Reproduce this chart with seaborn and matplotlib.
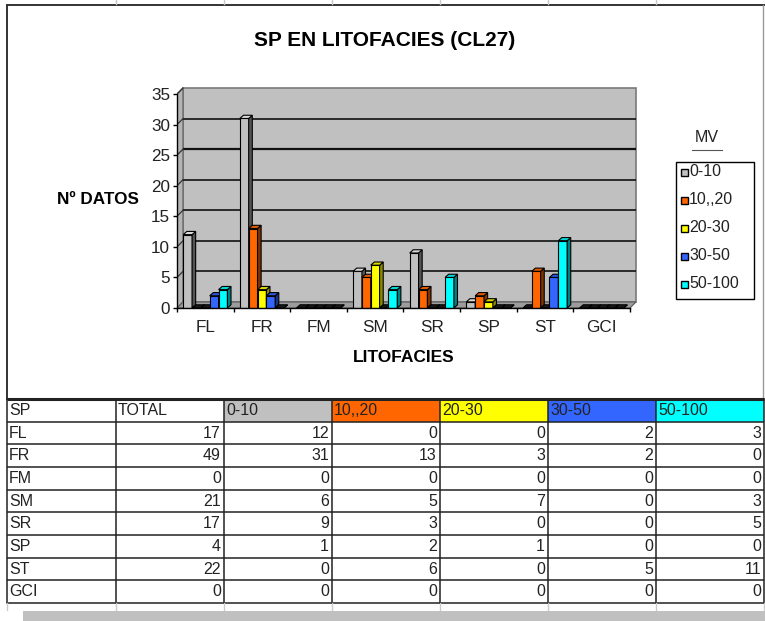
import matplotlib
matplotlib.use("Agg")
import numpy as np
import pandas as pd
import matplotlib.pyplot as plt
from matplotlib.patches import Polygon, Rectangle
from matplotlib import font_manager
import seaborn as sns

# ---- data -------------------------------------------------------------
categories = ["FL", "FR", "FM", "SM", "SR", "SP", "ST", "GCI"]
series_names = ["0-10", "10,,20", "20-30", "30-50", "50-100"]
v_0_10 = [12, 31, 0, 6, 9, 1, 0, 0]
v_10_20 = [0, 13, 0, 5, 3, 2, 6, 0]
v_20_30 = [0, 3, 0, 7, 0, 1, 0, 0]
v_30_50 = [2, 2, 0, 0, 0, 0, 5, 0]
v_50_100 = [3, 0, 0, 3, 5, 0, 11, 0]
totals = [17, 49, 0, 21, 17, 4, 22, 0]
y_ticks = [0, 5, 10, 15, 20, 25, 30, 35]

series_values = [v_0_10, v_10_20, v_20_30, v_30_50, v_50_100]

# ---- styling ----------------------------------------------------------
front_colors = ["#C0C0C0", "#FF6600", "#FFFF00", "#3366FF", "#00FFFF"]
side_colors = ["#555555", "#803300", "#8A8A00", "#1A3380", "#008080"]
top_colors = ["#DADADA", "#E05A00", "#D8D800", "#2A55DD", "#00D8D8"]

names = {f.name for f in font_manager.fontManager.ttflist}
base_font = "Liberation Sans" if "Liberation Sans" in names else "DejaVu Sans"
narrow_font = "Liberation Sans Narrow" if "Liberation Sans Narrow" in names else base_font
plt.rcParams["font.family"] = [base_font, "DejaVu Sans"]

W, H = 765, 621
fig = plt.figure(figsize=(W / 100, H / 100), dpi=100)

# plot region in pixels: x=-0.5 at 177 px, 56.625 px per category;
# y=0 at 308 px, 6.114 px per unit
px_cat = 56.625
px_unit = (308 - 94) / 35.0
ax_left, ax_right, ax_bottom, ax_top = 177, 641, 308, 84
ax = fig.add_axes([ax_left / W, 1 - ax_bottom / H,
                   (ax_right - ax_left) / W, (ax_bottom - ax_top) / H])
ax.patch.set_visible(False)

df = pd.DataFrame({
    "litofacies": np.repeat([categories], len(series_names), axis=0).ravel(),
    "mv": np.repeat(series_names, len(categories)),
    "n": np.concatenate(series_values),
})

sns.barplot(data=df, x="litofacies", y="n", hue="mv", order=categories,
            hue_order=series_names, palette=front_colors, saturation=1,
            width=0.78, gap=0, edgecolor="black", linewidth=0.8,
            errorbar=None, legend=False, ax=ax)

xmin, xmax = -0.5, -0.5 + (ax_right - ax_left) / px_cat
ymax = (ax_bottom - ax_top) / px_unit
ax.set_xlim(xmin, xmax)
ax.set_ylim(0, ymax)

# depth offsets of the chart walls and of each bar
wdx, wdy = 6.0 / px_cat, 6.0 / px_unit
bdx, bdy = 3.6 / px_cat, 3.2 / px_unit
x0c, x1c = -0.5, len(categories) - 0.5

# back wall, side wall and floor
ax.add_patch(Rectangle((x0c + wdx, wdy), x1c - x0c, 35, facecolor="#C0C0C0",
                       edgecolor="#7A7A7A", linewidth=1.2, zorder=0.5))
ax.add_patch(Polygon([(x0c, 0), (x0c, 35), (x0c + wdx, 35 + wdy), (x0c + wdx, wdy)],
                     closed=True, facecolor="#B4B4B4", edgecolor="#6A6A6A",
                     linewidth=1.0, zorder=0.6))
ax.add_patch(Polygon([(x0c, 0), (x1c, 0), (x1c + wdx, wdy), (x0c + wdx, wdy)],
                     closed=True, facecolor="#9C9C9C", edgecolor="#5A5A5A",
                     linewidth=0.8, zorder=0.6))
for t in y_ticks[1:-1]:
    ax.plot([x0c + wdx, x1c + wdx], [t + wdy, t + wdy], color="#111111",
            linewidth=1.6 if t == 25 else 1.2, zorder=0.8, solid_capstyle="butt")
for t in y_ticks[1:]:
    ax.plot([x0c, x0c + wdx], [t, t + wdy], color="#333333", linewidth=0.9, zorder=0.9)

# 3D faces on every bar, drawn left to right
bars = []
for k, cont in enumerate(ax.containers):
    for p in cont.patches:
        bars.append((p.get_x(), k, p))
bars.sort(key=lambda b: b[0])
for rank, (bx, k, p) in enumerate(bars):
    z = 3 + rank * 0.01
    w, h = p.get_width(), p.get_height()
    p.set_zorder(z)
    side = Polygon([(bx + w, 0), (bx + w + bdx, bdy), (bx + w + bdx, h + bdy), (bx + w, h)],
                   closed=True, facecolor=side_colors[k], edgecolor="black",
                   linewidth=0.8, zorder=z + 0.001)
    topc = top_colors[k] if h > 0 else "#1A1A1A"
    top = Polygon([(bx, h), (bx + w, h), (bx + w + bdx, h + bdy), (bx + bdx, h + bdy)],
                  closed=True, facecolor=topc, edgecolor="black",
                  linewidth=0.8, zorder=z + 0.002)
    ax.add_patch(side)
    ax.add_patch(top)

# axes, ticks and labels
for s in ["top", "right"]:
    ax.spines[s].set_visible(False)
ax.spines["left"].set_bounds(0, 35)
ax.spines["bottom"].set_bounds(x0c, x1c)
ax.spines["left"].set_linewidth(1.0)
ax.spines["bottom"].set_linewidth(1.0)
ax.spines["left"].set_zorder(5)
ax.spines["bottom"].set_zorder(5)
ax.set_yticks(y_ticks)
ax.set_yticklabels([str(t) for t in y_ticks])
ax.set_xticks(range(len(categories)))
ax.set_xticklabels(categories)
ax.set_xticks(np.arange(len(categories) + 1) - 0.5, minor=True)
ax.tick_params(axis="y", direction="out", length=3, width=1, pad=2,
               labelsize=12.3, colors="black", labelcolor="#222222")
ax.tick_params(axis="x", which="major", length=0, pad=9, labelsize=12.3,
               labelcolor="#222222")
ax.tick_params(axis="x", which="minor", direction="out", length=3, width=1)
ax.set_xlabel("")
ax.set_ylabel("")

# ---- overlay in pixel coordinates -------------------------------------
ov = fig.add_axes([0, 0, 1, 1])
ov.set_xlim(0, W)
ov.set_ylim(H, 0)
ov.axis("off")
ov.patch.set_visible(False)

ov.text(384.5, 41, "SP EN LITOFACIES (CL27)", ha="center", va="center",
        fontsize=15, fontweight="bold")
ov.text(57, 200, "Nº DATOS", ha="left", va="center", fontsize=12.3, fontweight="bold")
ov.text(403.5, 357, "LITOFACIES", ha="center", va="center", fontsize=12.5,
        fontweight="bold")

# legend
ov.text(707, 138, "MV", ha="center", va="center", fontsize=11.5, color="#222222")
ov.plot([692, 722], [150, 150], color="#555555", linewidth=0.8)
ov.add_patch(Rectangle((676, 162), 78, 137, facecolor="white", edgecolor="black",
                       linewidth=1.0))
for i, (name, col) in enumerate(zip(series_names, front_colors)):
    yc = 172 + i * 28
    ov.add_patch(Rectangle((681, yc - 3.5), 7, 7, facecolor=col, edgecolor="black",
                           linewidth=1.0))
    ov.text(689, yc, name, ha="left", va="center", fontsize=11.5, color="#222222")

# chart frame
ov.plot([7, 7], [5, 399], color="#333333", linewidth=1.4)
ov.plot([7, 765], [5, 5], color="#333333", linewidth=1.4)
ov.plot([763, 763], [5, 399], color="#9A9A9A", linewidth=1.0)
col_edges = [7, 116, 224, 332, 440, 548, 656, 764]
for cx in col_edges[1:-1]:
    ov.plot([cx, cx], [0, 4], color="#C8C8C8", linewidth=1.0)

# data table
row_top, row_h = 399, 22.67
n_rows = len(categories) + 1
for j in range(2, 7):
    ov.add_patch(Rectangle((col_edges[j], row_top), col_edges[j + 1] - col_edges[j],
                           row_h, facecolor=front_colors[j - 2], edgecolor="none"))
for r in range(n_rows + 1):
    yy = row_top + r * row_h
    ov.plot([7, 764], [yy, yy], color="#222222",
            linewidth=2.2 if r == 0 else 1.1, solid_capstyle="butt")
for cx in col_edges:
    ov.plot([cx, cx], [row_top, row_top + n_rows * row_h], color="#222222",
            linewidth=1.1)
    ov.plot([cx, cx], [row_top + n_rows * row_h, 610], color="#CCCCCC", linewidth=1.0)

tkw = dict(fontsize=11.5, family=[narrow_font, "DejaVu Sans"], va="center",
           color="#222222")
header = ["SP", "TOTAL"] + series_names
for j, txt in enumerate(header):
    ov.text(col_edges[j] + 2, row_top + row_h / 2, txt, ha="left", **tkw)
for i, cat in enumerate(categories):
    yc = row_top + (i + 1.5) * row_h
    ov.text(col_edges[0] + 2, yc, cat, ha="left", **tkw)
    row_vals = [totals[i]] + [s[i] for s in series_values]
    for j, v in enumerate(row_vals):
        ov.text(col_edges[j + 2] - 3, yc, str(v), ha="right", **tkw)

# scrollbar-like strip under the table
ov.add_patch(Rectangle((23, 611), W - 23, 10, facecolor="#C0C0C0", edgecolor="none"))

fig.savefig("out.png", dpi=100)
